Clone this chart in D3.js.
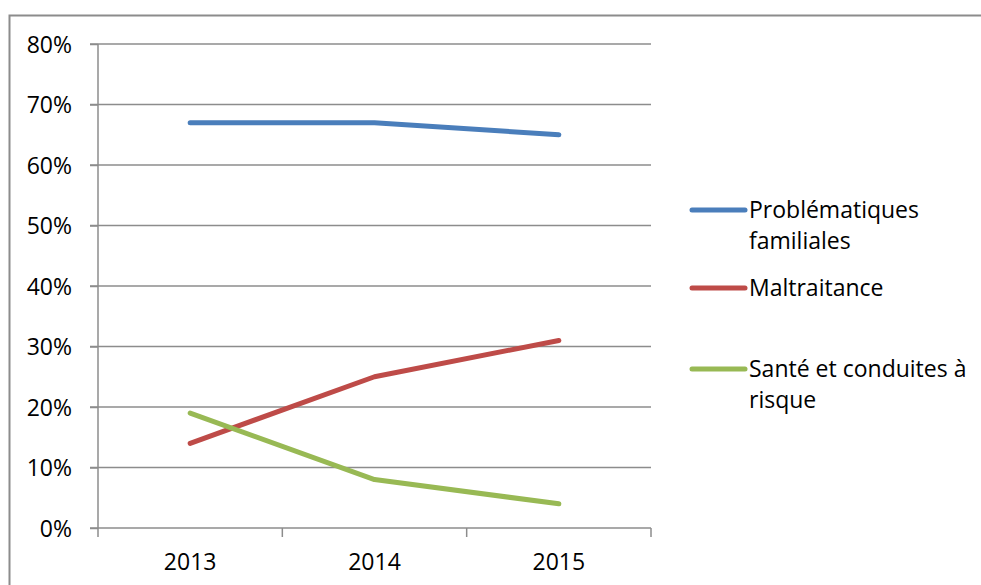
<!DOCTYPE html>
<html>
<head>
<meta charset="utf-8">
<script src="https://cdn.jsdelivr.net/npm/d3@7"></script>
<style>
  body { margin: 0; background: #fff; }
  text { font-family: "Open Sans", "Noto Sans", sans-serif; fill: #000; }
</style>
</head>
<body>
<div id="chart"></div>
<script>
// chart data
var years = ["2013", "2014", "2015"];
var seriesNames = [["Problématiques", "familiales"], ["Maltraitance"], ["Santé et conduites à", "risque"]];
var familiales = [67, 67, 65];
var maltraitance = [14, 25, 31];
var sante = [19, 8, 4];
var yTicks = [0, 10, 20, 30, 40, 50, 60, 70, 80];
var colors = ["#4a7ebb", "#be4b48", "#98b954"];

var series = [familiales, maltraitance, sante];

var width = 981, height = 585;
var margin = {top: 44, left: 98, right: 330, bottom: 57};
var plotW = width - margin.left - margin.right,
    plotH = height - margin.top - margin.bottom;

var svg = d3.select("#chart").append("svg")
    .attr("width", width)
    .attr("height", height);

// outer frame (runs off the right/bottom edges in the original)
svg.append("rect")
  .attr("x", 9.5).attr("y", 15.5)
  .attr("width", 1000).attr("height", 600)
  .attr("fill", "none")
  .attr("stroke", "#8c8c8c")
  .attr("stroke-width", 2);

var g = svg.append("g")
  .attr("transform", "translate(" + margin.left + "," + margin.top + ")");

var x = d3.scaleBand().domain(years).range([0, plotW]);
var y = d3.scaleLinear().domain([0, 80]).range([plotH, 0]);

// gridlines
g.selectAll(".grid")
  .data(yTicks.filter(function(d){ return d > 0; }))
  .enter().append("line")
    .attr("class", "grid")
    .attr("x1", -8).attr("x2", plotW)
    .attr("y1", function(d){ return y(d); })
    .attr("y2", function(d){ return y(d); })
    .attr("stroke", "#8c8c8c")
    .attr("stroke-width", 1.5);

// y axis
var yAxis = g.append("g")
  .call(d3.axisLeft(y).tickValues(yTicks).tickSize(8).tickPadding(18)
    .tickFormat(function(d){ return d + "%"; }));
yAxis.selectAll("line").attr("stroke", "#8c8c8c").attr("stroke-width", 1.5);
yAxis.select(".domain").attr("stroke", "#8c8c8c").attr("stroke-width", 1.5).attr("d", "M0," + plotH + "V0");
yAxis.selectAll("text").style("font-size", "23px").attr("dy", "0.36em");

// x axis with ticks at band edges
var xg = g.append("g").attr("transform", "translate(0," + plotH + ")");
xg.append("line")
  .attr("x1", -8).attr("x2", plotW)
  .attr("stroke", "#8c8c8c").attr("stroke-width", 1.5);
var edges = years.map(function(d){ return x(d); }).concat([plotW]);
xg.selectAll(".xtick").data(edges).enter().append("line")
  .attr("x1", function(d){ return d; }).attr("x2", function(d){ return d; })
  .attr("y1", 0).attr("y2", 9)
  .attr("stroke", "#8c8c8c").attr("stroke-width", 1.5);
xg.selectAll(".xlab").data(years).enter().append("text")
  .attr("x", function(d){ return x(d) + x.bandwidth() / 2; })
  .attr("y", 34)
  .attr("dy", "0.36em")
  .attr("text-anchor", "middle")
  .style("font-size", "23px")
  .text(function(d){ return d; });

// lines
var line = d3.line()
  .x(function(d, i){ return x(years[i]) + x.bandwidth() / 2; })
  .y(function(d){ return y(d); });

series.forEach(function(s, i){
  g.append("path")
    .datum(s)
    .attr("d", line)
    .attr("fill", "none")
    .attr("stroke", colors[i])
    .attr("stroke-width", 5)
    .attr("stroke-linecap", "round")
    .attr("stroke-linejoin", "round");
});

// legend
var legendY = [210, 288, 369];
var legend = svg.append("g");
seriesNames.forEach(function(name, i){
  legend.append("line")
    .attr("x1", 692).attr("x2", 745)
    .attr("y1", legendY[i]).attr("y2", legendY[i])
    .attr("stroke", colors[i])
    .attr("stroke-width", 5)
    .attr("stroke-linecap", "round");
  name.forEach(function(t, j){
    legend.append("text")
      .attr("x", 749)
      .attr("y", legendY[i] + j * 31)
      .attr("dy", "0.36em")
      .style("font-size", "23px")
      .text(t);
  });
});
</script>
</body>
</html>
